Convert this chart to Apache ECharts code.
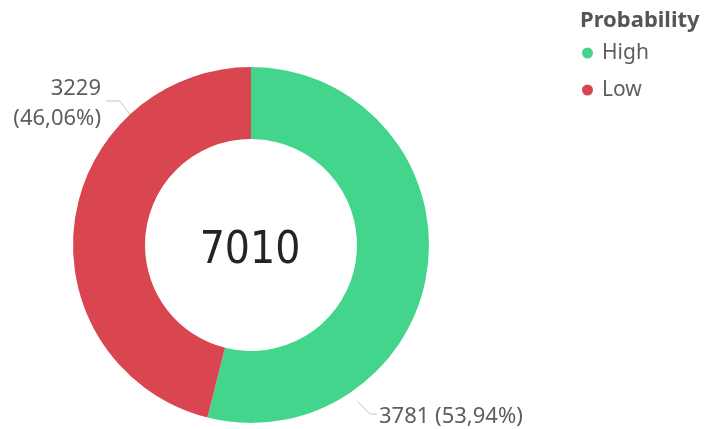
<!DOCTYPE html>
<html><head><meta charset="utf-8">
<script src="https://cdn.jsdelivr.net/npm/echarts@6/dist/echarts.min.js"></script>
<style>html,body{margin:0;padding:0;background:#fff}#c{width:706px;height:429px}</style>
</head><body><div id="c"></div>
<script>
const categories = ['High', 'Low'];
const values = [3781, 3229];
const colors = ['#44D58C', '#D9464F'];
const legendTitle = 'Probability';

const total = values.reduce((a, b) => a + b, 0);
const fmtPct = v => (v / total * 100).toFixed(2).replace('.', ',') + '%';

const chart = echarts.init(document.getElementById('c'));
const font = "'Segoe UI', 'Noto Sans', sans-serif";
chart.setOption({
  animation: false,
  title: {
    text: legendTitle, left: 575, top: 5,
    textStyle: { fontFamily: font, fontSize: 22, fontWeight: 'bold', color: '#555' }
  },
  legend: {
    orient: 'vertical', left: 577, top: 37, icon: 'circle',
    itemWidth: 11, itemHeight: 11, itemGap: 15,
    textStyle: { fontFamily: font, fontSize: 21, lineHeight: 22, color: '#605E5C', padding: [0, 0, 0, 4] },
    data: categories
  },
  graphic: [{
    type: 'text', x: 250, y: 252,
    style: { text: String(total), fontFamily: "'DejaVu Sans Condensed', 'Liberation Sans', sans-serif", fontSize: 44, fill: '#252423', textAlign: 'center', textVerticalAlign: 'middle' }
  }],
  series: [{
    type: 'pie',
    center: [251, 245], radius: [106, 178],
    startAngle: 90, clockwise: true,
    data: categories.map((c, i) => ({ name: c, value: values[i], itemStyle: { color: colors[i] } })),
    label: {
      show: true, fontFamily: font, fontSize: 22, color: '#605E5C', lineHeight: 30, overflow: 'none',
      formatter: p => p.dataIndex === 1 ? p.value + '\n(' + fmtPct(p.value) + ')' : p.value + ' (' + fmtPct(p.value) + ')'
    },
    labelLine: { show: true, lineStyle: { color: '#C8C6C4', width: 1 } },
    labelLayout: function (params) {
      if (params.dataIndex === 1) {
        return { x: 101, y: 104, align: 'right', verticalAlign: 'middle',
          labelLinePoints: [[131, 116], [120, 101], [106, 101]] };
      }
      return { x: 379, y: 417, align: 'left', verticalAlign: 'middle',
        labelLinePoints: [[357, 401], [370, 414], [377, 414]] };
    }
  }]
});
</script></body></html>
